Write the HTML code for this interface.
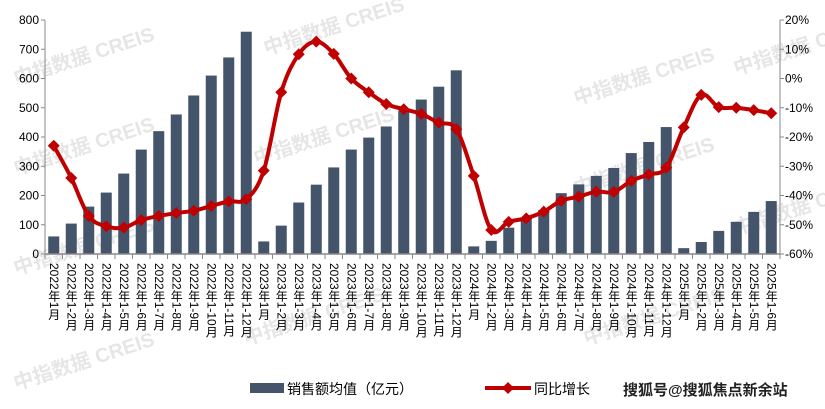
<!DOCTYPE html>
<html><head><meta charset="utf-8">
<style>
html,body{margin:0;background:#fff;width:825px;height:409px;overflow:hidden;}
#wrap{position:relative;width:825px;height:409px;overflow:hidden;font-family:"Liberation Sans","Noto Sans CJK SC",sans-serif;}
.xl{position:absolute;top:263px;writing-mode:vertical-rl;font-size:12px;line-height:12px;color:#000;white-space:nowrap;}
.wm{position:absolute;color:rgba(200,200,200,0.45);font-size:20px;font-weight:bold;transform:rotate(-18deg);white-space:nowrap;font-family:"Liberation Sans","Noto Sans CJK SC",sans-serif;}
</style></head>
<body>
<div id="wrap">
<svg id="svg" width="825" height="409" style="position:absolute;left:0;top:0"></svg>
<div>
 <div style="position:absolute;left:250px;top:383px;width:34px;height:10px;background:#44546a"></div>
 <div style="position:absolute;left:287px;top:379px;font-size:14px">销售额均值（亿元）</div>
 <svg style="position:absolute;left:483px;top:380px" width="50" height="16"><line x1="2" y1="8" x2="48" y2="8" stroke="#c00000" stroke-width="4"/><polygon points="25,2 31,8 25,14 19,8" fill="#c00000"/></svg>
 <div style="position:absolute;left:534px;top:379px;font-size:14px">同比增长</div>
</div>
<div style="position:absolute;left:623px;top:379px;font-size:15px;font-weight:bold;color:#222">搜狐号@搜狐焦点新余站</div>
</div>
<script>
const categories=["2022年1月","2022年1-2月","2022年1-3月","2022年1-4月","2022年1-5月","2022年1-6月","2022年1-7月","2022年1-8月","2022年1-9月","2022年1-10月","2022年1-11月","2022年1-12月",
"2023年1月","2023年1-2月","2023年1-3月","2023年1-4月","2023年1-5月","2023年1-6月","2023年1-7月","2023年1-8月","2023年1-9月","2023年1-10月","2023年1-11月","2023年1-12月",
"2024年1月","2024年1-2月","2024年1-3月","2024年1-4月","2024年1-5月","2024年1-6月","2024年1-7月","2024年1-8月","2024年1-9月","2024年1-10月","2024年1-11月","2024年1-12月",
"2025年1月","2025年1-2月","2025年1-3月","2025年1-4月","2025年1-5月","2025年1-6月"];
const salesValues=[60,104,162,210,275,357,420,477,542,610,672,760,43,97,176,237,296,357,398,436,490,528,572,628,26,45,90,120,150,208,238,267,294,345,383,434,20,41,79,110,144,181];
const yoyValues=[-23,-34,-47,-50.5,-51,-48.4,-47,-46,-45.2,-43.6,-42,-41.3,-31.5,-4.7,8.3,12.6,8.4,0,-4.7,-8.7,-10.5,-12.1,-15.1,-17.3,-33.3,-51.8,-49,-47.8,-45.5,-41.8,-40.4,-38.7,-38.8,-35,-32.8,-30.5,-16.7,-5.6,-9.8,-10,-10.8,-11.9];
const leftTicks=[0,100,200,300,400,500,600,700,800];
const rightTicks=[-60,-50,-40,-30,-20,-10,0,10,20];

const X0=45,X1=780,Y0=254,Y1=20;
const step=(X1-X0)/categories.length;
const xc=i=>X0+step*(i+0.5);
const yL=v=>Y0-(v/800)*(Y0-Y1);
const yR=v=>Y0-((v+60)/80)*(Y0-Y1);
const NS="http://www.w3.org/2000/svg";
const svg=document.getElementById('svg');
function mk(t,a){const e=document.createElementNS(NS,t);for(const k in a)e.setAttribute(k,a[k]);svg.appendChild(e);return e;}
const wrap=document.getElementById('wrap');
[[10,40],[260,10],[570,60],[10,130],[250,120],[570,150],[10,230],[240,300],[580,300],[10,345],[730,190],[730,30]].forEach((p,i)=>{
 const w=document.createElement('div');w.className='wm';w.style.left=p[0]+'px';w.style.top=p[1]+'px';w.textContent='中指数据 CREIS';
 
 
 wrap.insertBefore(w,wrap.firstChild);
});
salesValues.forEach((v,i)=>{
 const r=mk('rect',{x:xc(i)-5.5,y:yL(v),width:11,height:Y0-yL(v),fill:'#44546a'});
 
 
});
const ax=mk('line',{x1:X0,y1:Y1,x2:X0,y2:Y0,stroke:'#888','stroke-width':1});


const ax2=mk('line',{x1:X1,y1:Y1,x2:X1,y2:Y0,stroke:'#888','stroke-width':1});


const ax3=mk('line',{x1:X0,y1:Y0,x2:X1,y2:Y0,stroke:'#888','stroke-width':1.5});


for(let i=0;i<=categories.length;i++){mk('line',{x1:X0+step*i,y1:Y0,x2:X0+step*i,y2:Y0+5,stroke:'#888'});}
leftTicks.forEach(v=>{
 mk('line',{x1:X0-4,y1:yL(v),x2:X0,y2:yL(v),stroke:'#888'});
 const t=mk('text',{x:X0-6,y:yL(v)+4,'text-anchor':'end','font-size':12,'font-family':'Liberation Sans, sans-serif'});t.textContent=v;
 
 
});
rightTicks.forEach(v=>{
 mk('line',{x1:X1,y1:yR(v),x2:X1+4,y2:yR(v),stroke:'#888'});
 const t=mk('text',{x:X1+5,y:yR(v)+4,'font-size':12,'font-family':'Liberation Sans, sans-serif'});t.textContent=v+'%';
 
 
});
const pts=yoyValues.map((v,i)=>[xc(i),yR(v)]);
let d='M'+pts[0][0]+','+pts[0][1];
for(let i=0;i<pts.length-1;i++){
 const p0=pts[Math.max(0,i-1)],p1=pts[i],p2=pts[i+1],p3=pts[Math.min(pts.length-1,i+2)];
 const c1=[p1[0]+(p2[0]-p0[0])/6,p1[1]+(p2[1]-p0[1])/6],c2=[p2[0]-(p3[0]-p1[0])/6,p2[1]-(p3[1]-p1[1])/6];
 d+=' C'+c1+' '+c2+' '+p2;
}
const ln=mk('path',{d:d,fill:'none',stroke:'#c00000','stroke-width':4});


pts.forEach((p,i)=>{
 const m=mk('polygon',{points:`${p[0]},${p[1]-6} ${p[0]+6},${p[1]} ${p[0]},${p[1]+6} ${p[0]-6},${p[1]}`,fill:'#c00000'});
 
 
});
categories.forEach((c,i)=>{
 const el=document.createElement('div');el.className='xl';el.textContent=c;
 el.style.left=(xc(i)-6)+'px';
 
 
 wrap.appendChild(el);
});
</script>
</body></html>
